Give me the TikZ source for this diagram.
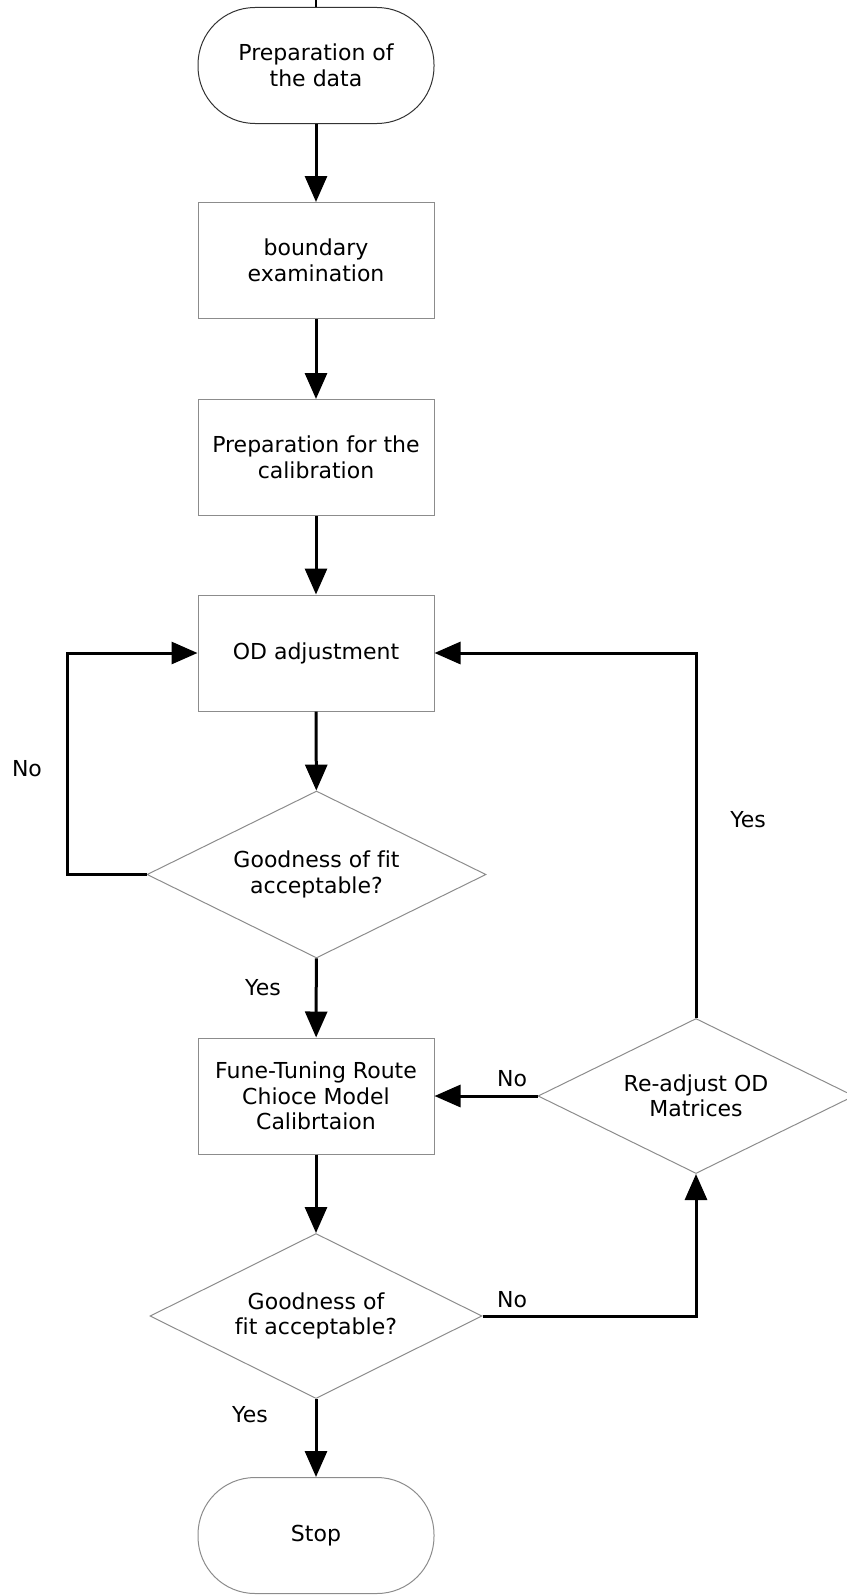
\documentclass[tikz,border=0pt]{standalone}
\usepackage{fontspec}
\setmainfont{DejaVu Sans}[Ligatures=NoCommon]
\usetikzlibrary{arrows.meta,shapes.geometric}
\begin{document}
\begin{tikzpicture}[x=1pt,y=-1pt,
  every node/.style={font=\fontsize{22}{25.5}\selectfont, align=center, text=black},
  boxnode/.style={draw=gray!90, line width=1pt, minimum width=236pt, minimum height=116pt, inner sep=0pt},
  termnode/.style={draw=gray!90, line width=1pt, rounded corners=57pt, minimum width=236pt, minimum height=116pt, inner sep=0pt},
  decnode/.style={draw=gray!90, line width=1pt, diamond, aspect=2, inner sep=0pt},
  conn/.style={line width=3pt, -{Triangle[length=26pt,width=22pt]}},
  lbl/.style={inner sep=0pt}
]
\useasboundingbox (0,0) rectangle (846,1595);
\coordinate (top) at (316,0);
\node[termnode, draw=black!80] (start) at (316,65.5) {Preparation of\\the data};
\node[boxnode] (b1) at (316,260.5) {boundary\\examination};
\node[boxnode] (b2) at (316,457.5) {Preparation for the\\calibration};
\node[boxnode] (b3) at (316,653) {OD adjustment};
\node[decnode, minimum width=339pt, minimum height=167pt] (d1) at (316.5,874.5) {Goodness of fit\\acceptable?};
\node[boxnode] (b4) at (316,1096) {Fune-Tuning Route\\Chioce Model\\Calibrtaion};
\node[decnode, minimum width=332pt, minimum height=165pt] (d2) at (316,1316) {Goodness of\\fit acceptable?};
\node[decnode, minimum width=316pt, minimum height=155pt] (d3) at (696,1096) {Re-adjust OD\\Matrices};
\node[termnode] (stop) at (316,1535.5) {Stop};

\draw[line width=1.5pt] (top) -- (start.north);
\draw[conn] (start) -- (b1);
\draw[conn] (b1) -- (b2);
\draw[conn] (b2) -- (b3);
\draw[conn] (b3) -- (d1);
\draw[conn] (d1.west) -| (67,760) |- (b3.west);
\draw[conn] (d1) -- (b4);
\draw[conn] (d3.north) |- (b3.east);
\draw[conn] (d3.west) -- (b4.east);
\draw[conn] (b4) -- (d2);
\draw[conn] (d2.east) -| (d3.south);
\draw[conn] (d2) -- (stop);

\node[lbl] (l1) at (27,769) {No};
\node[lbl] (l2) at (748,820) {Yes};
\node[lbl] (l3) at (263,988) {Yes};
\node[lbl] (l4) at (512,1079) {No};
\node[lbl] (l5) at (512,1300) {No};
\node[lbl] (l6) at (250,1415) {Yes};
\end{tikzpicture}
\end{document}
